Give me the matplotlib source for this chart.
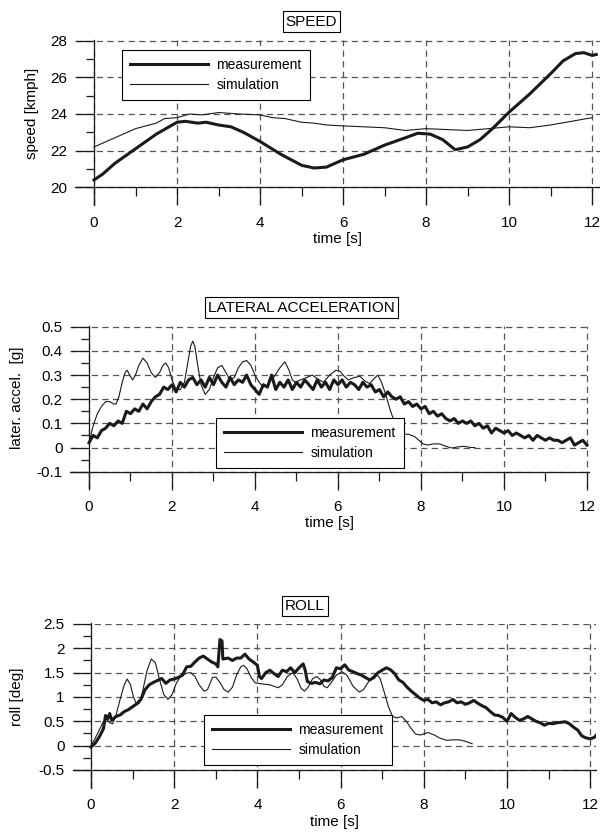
import matplotlib
matplotlib.use("Agg")
import matplotlib.pyplot as plt
import numpy as np

plt.rcParams['font.family'] = ['Liberation Sans', 'DejaVu Sans']
plt.rcParams['font.size'] = 11

# ---------------- DATA ----------------
# Speed [kmph]
speed_meas_t = [0, 0.2, 0.5, 1.0, 1.5, 2.0, 2.2, 2.5, 2.7, 3.0, 3.3, 3.6, 4.0, 4.5, 5.0, 5.3,
                5.6, 6.0, 6.5, 7.0, 7.5, 7.8, 8.1, 8.4, 8.7, 9.0, 9.3, 9.6, 10.0, 10.5, 11.0,
                11.3, 11.6, 11.8, 12.0, 12.1]
speed_meas_v = [20.4, 20.7, 21.3, 22.1, 22.9, 23.55, 23.6, 23.5, 23.55, 23.4, 23.3, 23.0, 22.5,
                21.8, 21.2, 21.05, 21.1, 21.5, 21.8, 22.3, 22.7, 22.95, 22.9, 22.6, 22.05, 22.2,
                22.6, 23.2, 24.1, 25.1, 26.2, 26.9, 27.3, 27.35, 27.2, 27.25]
speed_sim_t = [0, 0.5, 1.0, 1.5, 1.7, 2.0, 2.3, 2.6, 3.0, 3.5, 4.0, 4.3, 4.6, 5.0, 5.3, 5.6,
               6.0, 6.5, 7.0, 7.5, 8.0, 8.5, 9.0, 9.5, 10.0, 10.5, 11.0, 11.5, 12.0]
speed_sim_v = [22.2, 22.7, 23.2, 23.5, 23.75, 23.8, 24.0, 23.95, 24.08, 24.0, 23.95, 23.8, 23.75,
               23.55, 23.5, 23.4, 23.35, 23.3, 23.25, 23.1, 23.2, 23.15, 23.1, 23.2, 23.3, 23.25,
               23.4, 23.6, 23.8]

# Lateral acceleration [g]
lat_meas_t = [round(0.1 * i, 1) for i in range(121)]
lat_meas_v = [0.02, 0.05, 0.04, 0.07, 0.08, 0.10, 0.09, 0.11, 0.10, 0.15,
              0.14, 0.16, 0.15, 0.18, 0.16, 0.19, 0.21, 0.22, 0.25, 0.24,
              0.26, 0.23, 0.27, 0.25, 0.28, 0.29, 0.26, 0.28, 0.25, 0.29,
              0.26, 0.30, 0.27, 0.25, 0.29, 0.26, 0.28, 0.27, 0.30, 0.26,
              0.24, 0.22, 0.26, 0.25, 0.30, 0.24, 0.27, 0.25, 0.28, 0.24,
              0.27, 0.25, 0.28, 0.26, 0.24, 0.28, 0.25, 0.27, 0.24, 0.28,
              0.26, 0.28, 0.25, 0.27, 0.26, 0.24, 0.27, 0.25, 0.26, 0.23,
              0.24, 0.21, 0.23, 0.21, 0.20, 0.21, 0.18, 0.19, 0.17, 0.18,
              0.16, 0.17, 0.14, 0.15, 0.13, 0.14, 0.12, 0.11, 0.12, 0.10,
              0.11, 0.10, 0.11, 0.09, 0.10, 0.08, 0.09, 0.06, 0.08, 0.07,
              0.06, 0.07, 0.05, 0.06, 0.05, 0.04, 0.05, 0.03, 0.05, 0.04,
              0.03, 0.04, 0.03, 0.03, 0.02, 0.03, 0.04, 0.01, 0.02, 0.03,
              0.01]
lat_sim_t = [0.0, 0.1, 0.2, 0.3, 0.4, 0.5, 0.6, 0.65, 0.72, 0.8, 0.87, 0.92, 0.98, 1.05, 1.12,
             1.2, 1.3, 1.4, 1.5, 1.6, 1.7, 1.78, 1.85, 1.92, 2.0, 2.1, 2.2, 2.3, 2.38, 2.45,
             2.5, 2.55, 2.62, 2.7, 2.8, 2.9, 3.0, 3.1, 3.2, 3.3, 3.4, 3.5, 3.6, 3.7, 3.8,
             3.9, 4.0, 4.1, 4.2, 4.3, 4.45, 4.6, 4.72, 4.82, 4.9, 4.97, 5.1, 5.25, 5.38,
             5.5, 5.65, 5.8, 5.95, 6.05, 6.15, 6.25, 6.4, 6.53, 6.65, 6.76, 6.87, 6.96,
             7.05, 7.15, 7.25, 7.35, 7.45, 7.55, 7.7, 7.85, 7.95, 8.05, 8.15, 8.3, 8.45,
             8.6, 8.75, 8.9, 9.05, 9.2, 9.3]
lat_sim_v = [0.02, 0.09, 0.14, 0.17, 0.19, 0.19, 0.18, 0.18, 0.21, 0.27, 0.31, 0.32, 0.30, 0.28,
             0.30, 0.34, 0.37, 0.35, 0.31, 0.29, 0.31, 0.34, 0.35, 0.33, 0.28, 0.24, 0.24, 0.27,
             0.35, 0.42, 0.44, 0.42, 0.34, 0.26, 0.22, 0.24, 0.29, 0.33, 0.34, 0.31, 0.28, 0.29,
             0.33, 0.355, 0.36, 0.34, 0.30, 0.27, 0.25, 0.26, 0.29, 0.33, 0.355, 0.32, 0.28,
             0.27, 0.28, 0.29, 0.30, 0.285, 0.27, 0.30, 0.32, 0.315, 0.295, 0.28, 0.29, 0.295,
             0.275, 0.265, 0.285, 0.30, 0.27, 0.22, 0.16, 0.11, 0.07, 0.055, 0.055, 0.045,
             0.03, 0.015, 0.01, 0.015, 0.015, 0.005, -0.002, 0.003, 0.005, 0.0, 0.0]

# Roll [deg]
roll_meas_t = [0.0, 0.1, 0.2, 0.3, 0.35, 0.4, 0.45, 0.5, 0.6, 0.7, 0.8, 0.9, 1.0, 1.1, 1.2,
               1.3, 1.4, 1.5, 1.6, 1.7, 1.8, 1.9, 2.0, 2.1, 2.2, 2.3, 2.4, 2.5, 2.6, 2.7,
               2.8, 2.9, 3.0, 3.05, 3.1, 3.15, 3.17, 3.3, 3.4, 3.5, 3.6, 3.7, 3.8, 3.9,
               4.0, 4.05, 4.1, 4.2, 4.3, 4.4, 4.5, 4.6, 4.7, 4.8, 4.9, 5.0, 5.1, 5.15,
               5.2, 5.3, 5.4, 5.5, 5.6, 5.7, 5.8, 5.9, 6.0, 6.1, 6.2, 6.3, 6.4, 6.5, 6.6,
               6.7, 6.8, 6.9, 7.0, 7.1, 7.2, 7.3, 7.4, 7.5, 7.6, 7.7, 7.8, 7.9, 8.0, 8.1,
               8.2, 8.3, 8.4, 8.5, 8.6, 8.7, 8.8, 8.9, 9.0, 9.1, 9.2, 9.3, 9.4, 9.5, 9.6,
               9.7, 9.8, 9.9, 10.0, 10.1, 10.2, 10.3, 10.4, 10.5, 10.6, 10.7, 10.8, 10.9,
               11.0, 11.1, 11.2, 11.3, 11.4, 11.5, 11.6, 11.7, 11.8, 11.9, 12.0, 12.1, 12.15]
roll_meas_v = [-0.03, 0.05, 0.18, 0.35, 0.62, 0.55, 0.66, 0.52, 0.6, 0.63, 0.7, 0.74, 0.8, 0.86,
               0.95, 1.15, 1.25, 1.3, 1.34, 1.38, 1.28, 1.35, 1.37, 1.4, 1.45, 1.62, 1.63, 1.72,
               1.8, 1.84, 1.78, 1.72, 1.68, 1.62, 2.18, 2.15, 1.78, 1.8, 1.75, 1.8, 1.8, 1.88,
               1.78, 1.72, 1.65, 1.42, 1.38, 1.5, 1.55, 1.48, 1.42, 1.55, 1.52, 1.6, 1.5, 1.6,
               1.68, 1.55, 1.32, 1.28, 1.3, 1.27, 1.35, 1.33, 1.4, 1.6, 1.58, 1.66, 1.55, 1.52,
               1.48, 1.45, 1.4, 1.35, 1.4, 1.5, 1.55, 1.6, 1.56, 1.48, 1.35, 1.3, 1.2, 1.12,
               1.05, 0.98, 0.93, 0.95, 0.88, 0.9, 0.84, 0.88, 0.9, 0.95, 0.88, 0.9, 0.85, 0.88,
               0.93, 0.87, 0.82, 0.78, 0.7, 0.63, 0.62, 0.58, 0.5, 0.66, 0.58, 0.52, 0.55, 0.6,
               0.55, 0.5, 0.47, 0.42, 0.46, 0.45, 0.47, 0.48, 0.49, 0.45, 0.38, 0.32, 0.2, 0.16,
               0.14, 0.17, 0.22]
roll_sim_t = [0.0, 0.1, 0.2, 0.3, 0.37, 0.45, 0.52, 0.6, 0.7, 0.8, 0.87, 0.95, 1.02, 1.1, 1.17,
              1.25, 1.35, 1.45, 1.55, 1.65, 1.75, 1.85, 1.95, 2.05, 2.15, 2.3, 2.4, 2.5, 2.6,
              2.72, 2.8, 2.92, 3.0, 3.1, 3.2, 3.3, 3.4, 3.5, 3.6, 3.67, 3.75, 3.85, 3.95, 4.1,
              4.3, 4.5, 4.6, 4.72, 4.85, 4.95, 5.05, 5.13, 5.22, 5.33, 5.43, 5.52, 5.6, 5.68,
              5.78, 5.9, 6.03, 6.15, 6.3, 6.45, 6.55, 6.7, 6.85, 6.95, 7.05, 7.15, 7.25, 7.35,
              7.47, 7.58, 7.7, 7.8, 7.92, 8.1, 8.25, 8.4, 8.55, 8.7, 8.85, 9.0, 9.16]
roll_sim_v = [0.0, 0.15, 0.32, 0.5, 0.55, 0.47, 0.45, 0.62, 0.95, 1.25, 1.37, 1.25, 1.0, 0.84,
              0.88, 1.15, 1.55, 1.78, 1.7, 1.35, 1.05, 0.95, 1.05, 1.28, 1.42, 1.49, 1.5, 1.42,
              1.25, 1.12, 1.15, 1.4, 1.41, 1.3, 1.15, 1.1, 1.2, 1.45, 1.62, 1.65, 1.58, 1.4,
              1.29, 1.27, 1.25, 1.19, 1.25, 1.42, 1.5, 1.38, 1.18, 1.12, 1.2, 1.38, 1.42, 1.35,
              1.22, 1.19, 1.3, 1.45, 1.52, 1.45, 1.22, 1.1, 1.15, 1.35, 1.48, 1.38, 1.1, 0.8,
              0.6, 0.57, 0.6, 0.5, 0.35, 0.24, 0.22, 0.27, 0.22, 0.15, 0.11, 0.12, 0.12, 0.09,
              0.04]

x_major = [0, 2, 4, 6, 8, 10, 12]
x_minor = [1, 3, 5, 7, 9, 11]
speed_yticks = [20, 22, 24, 26, 28]
speed_yminor = [21, 23, 25, 27]
lat_yticks = [-0.1, 0, 0.1, 0.2, 0.3, 0.4, 0.5]
lat_ylabels = ['-0.1', '0', '0.1', '0.2', '0.3', '0.4', '0.5']
lat_yminor = [-0.05, 0.05, 0.15, 0.25, 0.35, 0.45]
roll_yticks = [-0.5, 0, 0.5, 1, 1.5, 2, 2.5]
roll_ylabels = ['-0.5', '0', '0.5', '1', '1.5', '2', '2.5']
roll_yminor = [-0.25, 0.25, 0.75, 1.25, 1.75, 2.25]

titles = ['SPEED', 'LATERAL ACCELERATION', 'ROLL']
ylabels = ['speed [kmph]', 'later. accel.  [g]', 'roll [deg]']
series_labels = ['measurement', 'simulation']

# ---------------- FIGURE ----------------
W, H = 600, 832
fig = plt.figure(figsize=(6, 8.32), dpi=100)
INK = '#1a1a1a'
GRID = '#555555'


def make_panel(rect, xlim, ylim, ybase, yticks, ylabs, yminor, title, title_xy,
               ylabel, ylabel_xy, t_m, v_m, t_s, v_s, leg_xy):
    ax = fig.add_axes(rect)
    ax.set_xlim(*xlim)
    ax.set_ylim(*ylim)
    for s in ['top', 'right']:
        ax.spines[s].set_visible(False)
    ax.spines['left'].set_position(('data', 0))
    ax.spines['bottom'].set_position(('data', ybase))
    for s in ['left', 'bottom']:
        ax.spines[s].set_linewidth(0.9)
        ax.spines[s].set_color(INK)
    ax.set_xticks(x_major)
    ax.set_xticklabels([str(v) for v in x_major])
    ax.set_xticks(x_minor, minor=True)
    ax.set_yticks(yticks)
    ax.set_yticklabels(ylabs)
    ax.set_yticks(yminor, minor=True)
    ax.tick_params(axis='x', which='major', direction='out', length=13, width=0.9,
                   pad=7.5, color=INK, labelsize=11)
    ax.tick_params(axis='x', which='minor', direction='out', length=6.5, width=0.9, color=INK)
    ax.tick_params(axis='y', which='major', direction='out', length=13, width=0.9,
                   pad=6, color=INK, labelsize=11)
    ax.tick_params(axis='y', which='minor', direction='out', length=6, width=0.9, color=INK)
    ax.grid(True, which='major', linestyle=(0, (5, 3.5)), color=GRID, linewidth=0.9)
    ax.set_axisbelow(True)
    l1, = ax.plot(t_m, v_m, color=INK, lw=2.2, label=series_labels[0], zorder=3,
                  solid_joinstyle='round')
    l2, = ax.plot(t_s, v_s, color=INK, lw=0.8, label=series_labels[1], zorder=3)
    ax.set_xlabel('time [s]', labelpad=1.5, fontsize=11)
    ax.set_ylabel(ylabel, va='center', fontsize=11)
    ax.yaxis.set_label_coords(ylabel_xy[0] / W, 1 - ylabel_xy[1] / H, transform=fig.transFigure)
    leg = ax.legend(handles=[l1, l2], loc='upper left',
                    bbox_to_anchor=(leg_xy[0] / W, 1 - leg_xy[1] / H),
                    bbox_transform=fig.transFigure, frameon=True, fancybox=False,
                    edgecolor='black', framealpha=1, handlelength=5.6, handletextpad=0.6,
                    borderpad=0.6, labelspacing=0.4, borderaxespad=0, fontsize=10)
    leg.get_frame().set_linewidth(0.8)
    leg.set_zorder(10)
    fig.text(title_xy[0] / W, 1 - title_xy[1] / H, title, ha='center', va='center',
             fontsize=11,
             bbox=dict(boxstyle='square,pad=0.2', facecolor='white', edgecolor='black',
                       linewidth=0.8))
    return ax


make_panel([75 / W, 1 - 205 / H, 525 / W, (205 - 40.2) / H],
           (-0.458, 12.19), (19.03, 28.03), 20, speed_yticks,
           [str(v) for v in speed_yticks], speed_yminor,
           titles[0], (311.5, 21.5), ylabels[0], (32, 113.5),
           speed_meas_t, speed_meas_v, speed_sim_t, speed_sim_v, (122, 50))

make_panel([70 / W, 1 - 488 / H, 519 / W, (488 - 326) / H],
           (-0.458, 12.05), (-0.1675, 0.503), -0.1, lat_yticks, lat_ylabels, lat_yminor,
           titles[1], (301.5, 307.5), ylabels[1], (17, 398),
           lat_meas_t, lat_meas_v, lat_sim_t, lat_sim_v, (216, 418))

make_panel([73.1 / W, 1 - 788 / H, 523.3 / W, (788 - 623.5) / H],
           (-0.43, 12.15), (-0.87, 2.51), -0.5, roll_yticks, roll_ylabels, roll_yminor,
           titles[2], (305, 606), ylabels[2], (17, 697),
           roll_meas_t, roll_meas_v, roll_sim_t, roll_sim_v, (204, 715))

fig.savefig('out.png', dpi=100)
